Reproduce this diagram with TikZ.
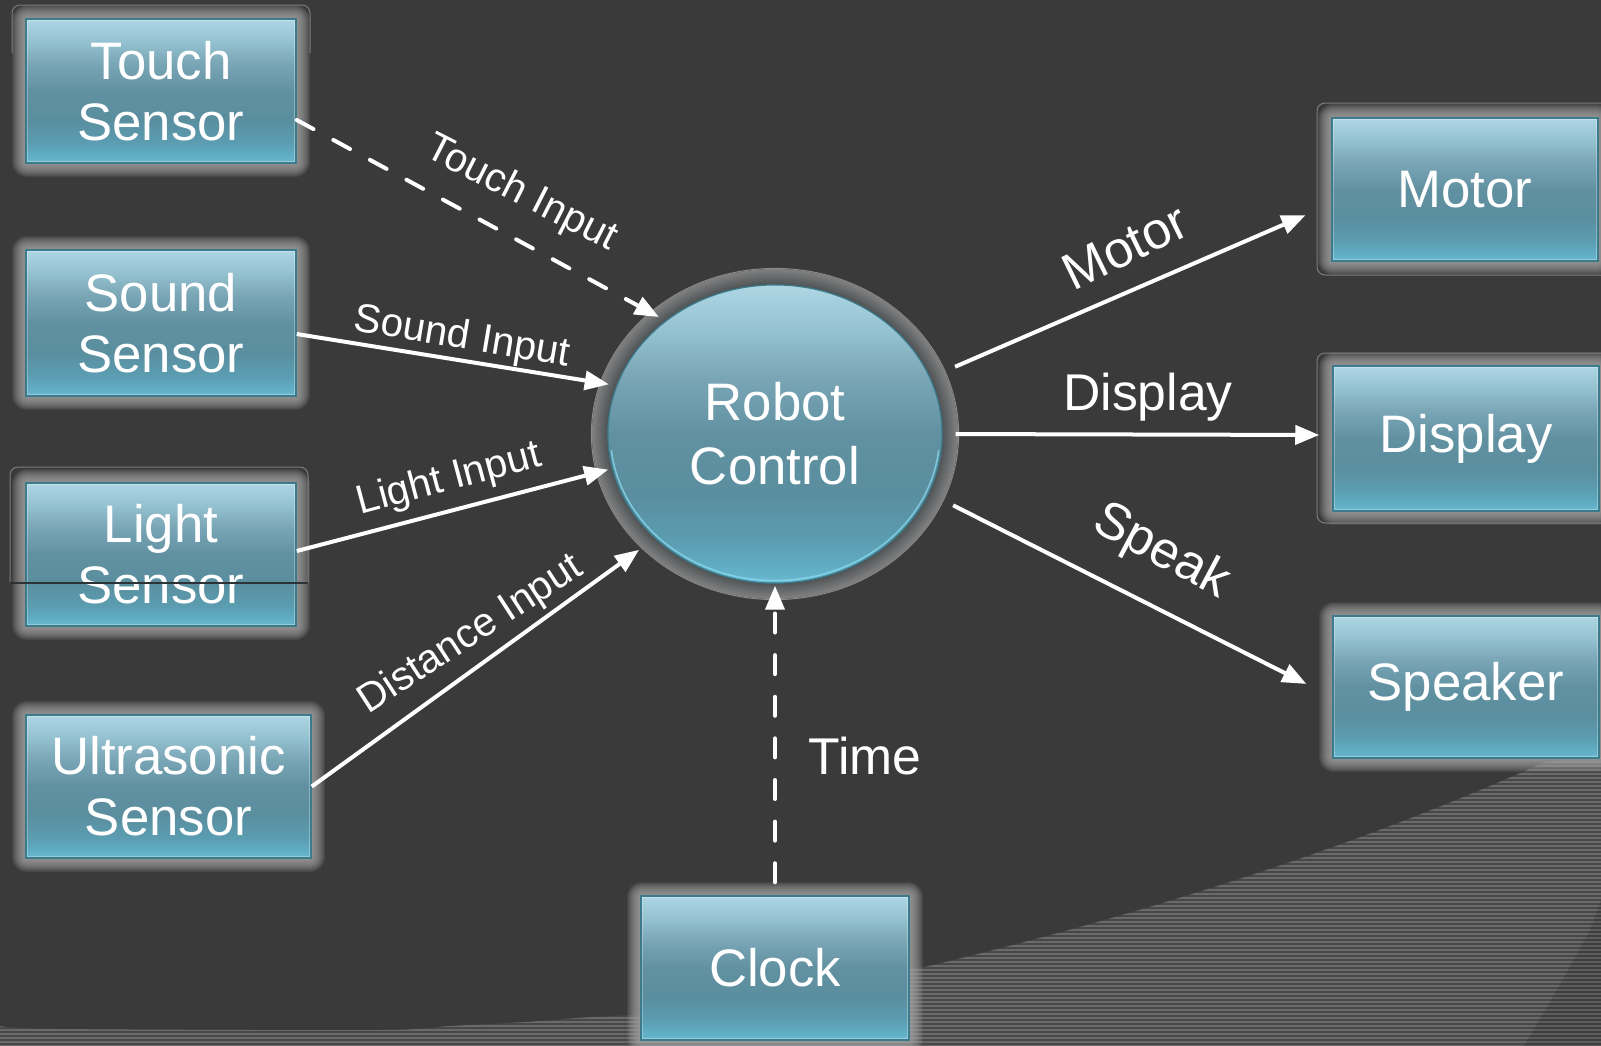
\documentclass[tikz,border=0pt]{standalone}
\usepackage{fontspec}
\setmainfont{Liberation Sans}
\usetikzlibrary{arrows.meta,shapes.geometric}
\definecolor{bgc}{HTML}{3A3A3A}
\definecolor{stripec}{HTML}{6A6A6A}
\definecolor{stripebg}{HTML}{474747}
\definecolor{glowc}{HTML}{A8A8A8}
\definecolor{bordc}{HTML}{3B7B8C}
\definecolor{outlc}{HTML}{7C7C7C}
\definecolor{ringin}{HTML}{4F5456}
\definecolor{ringout}{HTML}{808080}
\definecolor{ringline}{HTML}{8A8A8A}
\definecolor{strayc}{HTML}{2C3236}
\definecolor{rimc}{HTML}{8CDDF0}
\definecolor{sb0}{HTML}{6BBAD2}
\definecolor{sb1}{HTML}{62B0C8}
\definecolor{sb2}{HTML}{5B9DB1}
\definecolor{sb3}{HTML}{5A8E9F}
\definecolor{sb4}{HTML}{6191A1}
\definecolor{sb5}{HTML}{7BA7B7}
\definecolor{sb6}{HTML}{94C1D0}
\definecolor{sb7}{HTML}{AED6E3}
\pgfdeclareverticalshading{boxshade}{100bp}{color(0bp)=(sb0); color(25bp)=(sb0); color(27bp)=(sb1); color(32bp)=(sb2); color(40bp)=(sb3); color(50bp)=(sb4); color(60bp)=(sb5); color(67bp)=(sb6); color(75bp)=(sb7); color(100bp)=(sb7)}
\newcommand\boxf{\fontsize{15pt}{17.4pt}\selectfont}
\newcommand\robf{\fontsize{15pt}{18.2pt}\selectfont}
\newcommand\labsm{\fontsize{11.5pt}{13pt}\selectfont}
\newcommand\labbg{\fontsize{14.7pt}{17pt}\selectfont}
\tikzset{
  boxnode/.style={rectangle, draw=bordc, line width=0.015cm, shade, shading=boxshade, text=white, font=\boxf, align=center, inner sep=0pt},
  robnode/.style={ellipse, draw=bordc, line width=0.012cm, shade, shading=boxshade, text=white, font=\robf, align=center, inner sep=0pt},
  lab/.style={text=white, font=\labsm, inner sep=0pt},
  labbig/.style={text=white, font=\labbg, inner sep=0pt},
  conn/.style={white, line width=0.04cm, -{Triangle[length=0.24cm,width=0.19cm]}},
  dashconn/.style={conn, line cap=round, dash pattern=on 0.19cm off 0.226cm},
  outl/.style={outlc, line width=0.01cm, rounded corners=0.08cm},
}
\newcommand\mkbox[6]{%
  \foreach \k in {14,13,...,1}{%
    \pgfmathsetmacro\rr{0.01*\k+0.01}%
    \fill[glowc,opacity=0.11,rounded corners=\rr cm] ({#2-\k},{#3-\k}) rectangle ({#4+\k},{#5+\k});
  }%
  \pgfmathsetmacro\bw{(#4-#2)*0.01}%
  \pgfmathsetmacro\bh{(#5-#3)*0.01}%
  \node[boxnode, minimum width=\bw cm, minimum height=\bh cm] (#1) at ({(#2+#4)/2},{(#3+#5)/2}) {#6};
  \draw[white, opacity=0.3, line width=0.01cm] ([shift={(2,2)}]#1.north west) rectangle ([shift={(-2,-2)}]#1.south east);
}
\begin{document}
\begin{tikzpicture}[x=0.01cm, y=-0.01cm]
\useasboundingbox (0,0) rectangle (1601,1045);
\fill[bgc] (0,0) rectangle (1601,1045);
% striped backdrop
\begin{scope}
  \clip (0,1046) -- plot[smooth] coordinates {(0,1026) (60,1029) (380,1030) (450,1026) (526,1022) (577,1018) (630,1015)} -- (905,1015) -- (905,968) -- (925,967) .. controls (1159.7,910.7) and (1366.3,842.3) .. (1545,762) -- (1601,757) -- (1601,1046) -- cycle;
  \fill[stripebg] (0,740) rectangle (1601,1046);
  \foreach \yy in {758,762,...,1046} \draw[stripec, line width=0.02cm] (0,\yy) -- (1601,\yy);
  \fill[black, opacity=0.12] (1601,900) -- (1590,930) .. controls (1560,985) .. (1524,1046) -- (1601,1046) -- cycle;
\end{scope}
% frame outlines
\draw[outl] (12,53) -- (12,5) -- (310,5) -- (310,53);
\draw[outl] (10,583) -- (10,467) -- (308,467) -- (308,583);
\draw[outl] (1601,103) -- (1317,103) -- (1317,275) -- (1601,275);
\draw[outl] (1601,353) -- (1317,353) -- (1317,523) -- (1601,523);
% boxes
\mkbox{touch}{26}{19}{296}{163}{Touch\\Sensor}
\mkbox{sound}{26}{250}{296}{396}{Sound\\Sensor}
\mkbox{light}{26}{483}{296}{626}{Light\\Sensor}
\mkbox{ultra}{26}{715}{311}{858}{Ultrasonic\\Sensor}
\mkbox{clock}{641}{896}{909}{1040}{Clock}
\mkbox{motor}{1332}{118}{1598}{261}{Motor}
\mkbox{display}{1333}{366}{1599}{511}{Display}
\mkbox{speaker}{1333}{616}{1599}{758}{Speaker}
% robot control
\foreach \k in {16,15,...,1}{%
  \pgfmathsetmacro\rx{(167+\k)*0.01}%
  \pgfmathsetmacro\ry{(149+\k)*0.01}%
  \pgfmathsetmacro\m{(\k-1)/15*100}%
  \fill[ringout!\m!ringin] (775,434) ellipse [x radius=\rx cm, y radius=\ry cm];
}
\draw[ringline, line width=0.01cm] (775,434) ellipse [x radius=1.835cm, y radius=1.655cm];
\node[robnode, minimum width=3.34cm, minimum height=2.98cm] (robot) at (775,434) {Robot\\Control};
\begin{scope}
  \clip (500,450) rectangle (1100,700);
  \draw[rimc, opacity=0.75, line width=0.015cm] (775,434) ellipse [x radius=1.645cm, y radius=1.465cm];
\end{scope}
% connectors
\draw[dashconn, shorten >=0.076cm] ([yshift=-0.29cm]touch.east) -- (robot.134.8);
\draw[conn, shorten >=0.077cm] ([yshift=-0.11cm]sound.east) -- (robot.163.6);
\draw[conn, shorten >=0.038cm] ([yshift=0.035cm]light.east) -- (robot.192.2);
\draw[conn, shorten >=0.195cm] (ultra.east) -- (robot.221.1);
\draw[dashconn, shorten <=0.13cm, shorten >=0.02cm] (clock.north) -- (robot.270);
\draw[conn, shorten <=0.27cm, shorten >=0.28cm] (robot.20.1) -- ([yshift=-0.145cm]motor.west);
\draw[conn, shorten <=0.13cm, shorten >=0.13cm] (robot.0) -- ([yshift=0.035cm]display.west);
\draw[conn, shorten <=0.27cm, shorten >=0.29cm] (robot.339.9) -- ([yshift=-0.1cm]speaker.west);
% labels
\node[lab, rotate=-27] (ltouch) at (521,194) {Touch Input};
\node[lab, rotate=-9.5] (lsound) at (462,338) {Sound Input};
\node[lab, rotate=15] (llight) at (449,480) {Light Input};
\node[lab, rotate=33] (ldist) at (471,635) {Distance Input};
\node[labbig, rotate=26] (lmotor) at (1125,247) {Motor};
\node[labbig] (ldisplay) at (1148,397) {Display};
\node[labbig, rotate=-28] (lspeak) at (1161,552) {Speak};
\node[labbig] (ltime) at (865,756) {Time};
% stray rule across the light sensor
\draw[strayc, line width=0.012cm] (10,583) -- (308,583);
\end{tikzpicture}
\end{document}
